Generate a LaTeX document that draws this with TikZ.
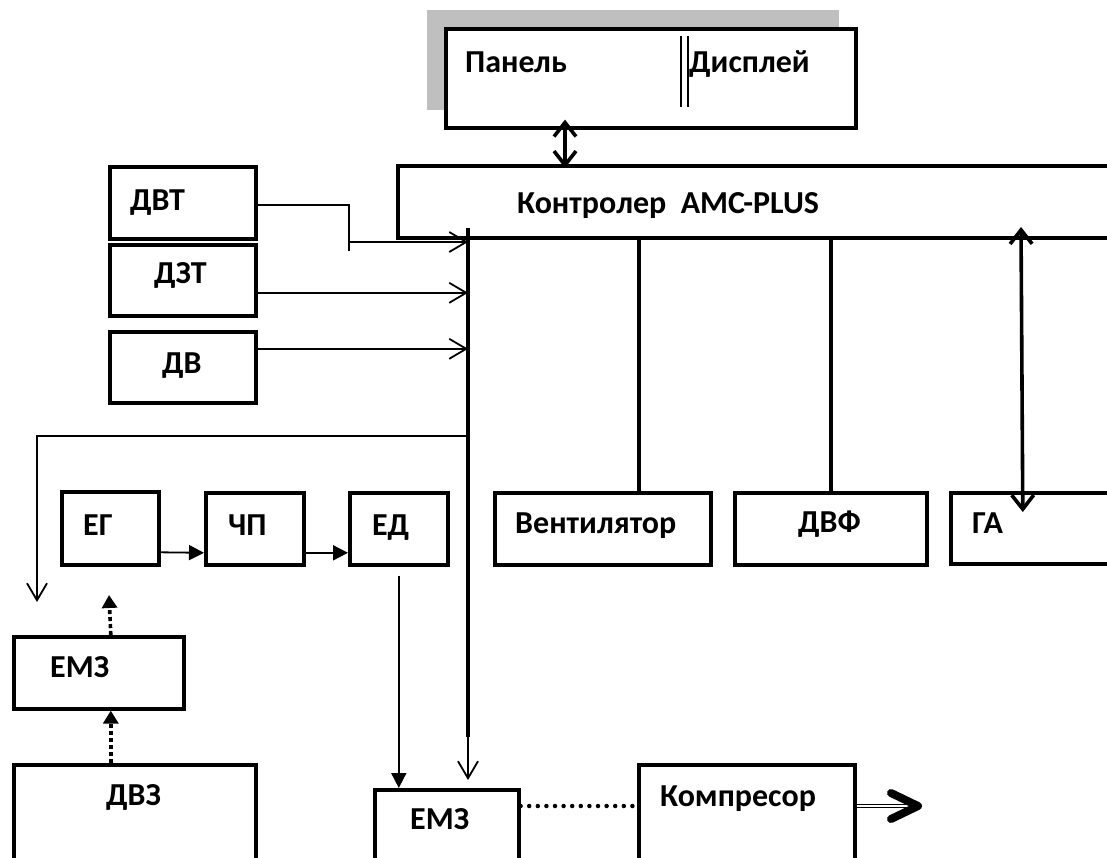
\documentclass[tikz,border=0pt]{standalone}
\usepackage{fontspec}
\setmainfont{Carlito}
\usepackage{tikz}
\usetikzlibrary{arrows.meta, positioning}
\definecolor{shadowgray}{RGB}{191,191,191}

\begin{document}
\begin{tikzpicture}[x=1pt, y=-1pt,
	blok/.style={draw, line width=3.6pt, anchor=north west, inner sep=0pt},
	txt/.style={anchor=base west, inner sep=0pt, font=\fontsize{32}{38}\selectfont\bfseries},
	wire/.style={line width=1.8pt},
	busline/.style={line width=3.6pt},
	sens/.style={line width=1.8pt, -{Straight Barb[length=17pt, width=20pt]}},
	flow/.style={line width=1.8pt, -{Triangle[length=15pt, width=15pt]}},
	biarrow/.style={line width=3.6pt, {Straight Barb[length=14pt, width=22pt]}-{Straight Barb[length=14pt, width=22pt]}},
	dotarr/.style={line width=3.6pt, dash pattern=on 4pt off 3pt, -{Triangle[length=13pt, width=15pt]}},
	dotline/.style={line width=4.5pt, line cap=round, dash pattern=on 0pt off 8.6pt}]
			\useasboundingbox (0,0) rectangle (1107,857);
			% Panel with shadow:
			\fill[shadowgray] (427,10) rectangle (839,110);
			\node[blok, fill=white, minimum width=410pt, minimum height=99pt](panel) at (444,27){};
			\draw[line width=1.6pt] (681,36) -- (681,107);
			\draw[line width=1.6pt] (688,36) -- (688,107);
			\node[txt](panelT) at (465,72){Панель};
			\node[txt](displT) at (689,72){Дисплей};
			% Controller and bus:
			\node[blok, minimum width=720pt, minimum height=72pt](ctrl) at (396,164){};
			\node[txt](ctrlT) at (517,213){Контролер\ \ AMC-PLUS};
			\draw[biarrow] ([xshift=121pt, yshift=10pt]panel.south west) -- ([xshift=169pt, yshift=-4pt]ctrl.north west);
			\coordinate (busTop) at (468,228);
			\coordinate (busEnd) at (468,737);
			\draw[busline] (busTop) -- (busEnd);
			% Sensors:
			\node[blok, minimum width=146pt, minimum height=72pt](dvt) at (108,165){};
			\node[blok, minimum width=146pt, minimum height=71pt](dzt) at (108,243){};
			\node[blok, minimum width=146pt, minimum height=71pt](dv) at (108,330){};
			\node[txt](dvtT) at (130,210){ДВТ};
			\node[txt](dztT) at (154,283){ДЗТ};
			\node[txt](dvT) at (162,373){ДВ};
			\coordinate (dvtOut) at ([yshift=-2pt]dvt.east);
			\coordinate (dvtKnee) at (349,251);
			\coordinate (dvtIn) at (349,242);
			\coordinate (dztOut) at ([yshift=-12.5pt]dzt.east);
			\coordinate (dvOut) at ([yshift=18.5pt]dv.east);
			\draw[wire] (dvtOut) -| (dvtKnee);
			\draw[sens] (dvtIn) -- (dvtIn -| busTop);
			\draw[sens] (dztOut) -- (dztOut -| busTop);
			\draw[sens] (dvOut) -- (dvOut -| busTop);
			% Feedback branch:
			\coordinate (fbIn) at (468,436);
			\coordinate (fbEnd) at (37,602);
			\draw[sens] (fbIn) -| (fbEnd);
			% Drive chain:
			\node[blok, minimum width=97pt, minimum height=73pt](eg) at (60,490){};
			\node[blok, minimum width=98pt, minimum height=72pt](chp) at (204,491){};
			\node[blok, minimum width=98pt, minimum height=72pt](ed) at (348,491){};
			\node[txt](egT) at (83,535){ЕГ};
			\node[txt](chpT) at (228,535){ЧП};
			\node[txt](edT) at (372,535){ЕД};
			\draw[flow] ([yshift=-24pt]eg.east) -- ([yshift=-24pt]chp.west);
			\draw[flow] ([yshift=-24pt]chp.east) -- ([yshift=-24pt]ed.west);
			% Actuators on the bus:
			\node[blok, minimum width=216pt, minimum height=72pt](vent) at (493,491){};
			\node[blok, minimum width=192pt, minimum height=72pt](dvf) at (733,491){};
			\node[blok, minimum width=170pt, minimum height=71pt](ga) at (949,491){};
			\node[txt](ventT) at (515,533){Вентилятор};
			\node[txt](dvfT) at (798,532){ДВФ};
			\node[txt](gaT) at (972,533){ГА};
			\coordinate (ventIn) at ([xshift=36pt]vent.north);
			\draw[busline] (ventIn) -- (ventIn |- ctrl.south);
			\draw[busline] (dvf.north) -- (dvf.north |- ctrl.south);
			\coordinate (gaIn) at ([xshift=-13pt, yshift=-21pt]ga.north);
			\coordinate (gaTop) at (1021,227);
			\draw[biarrow] (gaTop) -- (gaIn);
			% Clutch branch:
			\node[blok, minimum width=170pt, minimum height=72pt](emzA) at (12,635){};
			\node[blok, minimum width=242pt, minimum height=110pt](dvz) at (12,763){};
			\node[txt](emzAT) at (50,677){ЕМЗ};
			\node[txt](dvzT) at (106,805){ДВЗ};
			\coordinate (emzAUp) at (109,595);
			\draw[dotarr] ([xshift=12pt]emzA.north) -- (emzAUp);
			\draw[dotarr] ([xshift=-24pt]dvz.north) -- ([xshift=12pt]emzA.south);
			% Compressor:
			\node[blok, minimum width=144pt, minimum height=80pt](emzB) at (373,788){};
			\node[blok, minimum width=216pt, minimum height=110pt](komp) at (637,763){};
			\node[txt](emzBT) at (410,829){ЕМЗ};
			\node[txt](kompT) at (660,806){Компресор};
			\draw[flow] ([yshift=-9pt]ed.south) -- (ed.south |- emzB.north);
			\draw[sens] (busEnd) -- ([xshift=95pt, yshift=8pt]emzB.north west);
			\draw[dotline] ([yshift=-18pt]emzB.north east) -- ([yshift=-43pt]komp.north west);
			\coordinate (outTip) at (918,806);
			\draw[line width=1.5pt, double, double distance=1.8pt] ([yshift=-43pt]komp.north east) -- ([xshift=-4pt]outTip);
			\draw[line width=8pt, line cap=round, line join=round] ([xshift=-27pt, yshift=13pt]outTip) -- (outTip) -- ([xshift=-27pt, yshift=-13pt]outTip);
		\end{tikzpicture}
\end{document}
